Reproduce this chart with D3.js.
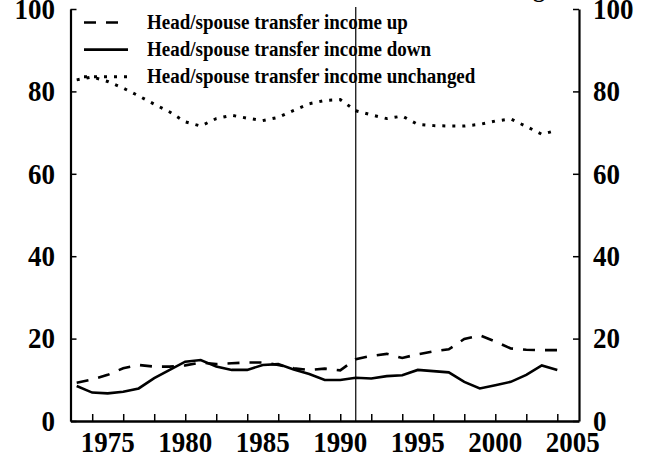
<!DOCTYPE html>
<html>
<head>
<meta charset="utf-8">
<script src="https://cdn.jsdelivr.net/npm/d3@7"></script>
<style>
  body { margin: 0; background: #fff; }
  svg { display: block; }
  text { font-family: "Liberation Serif", "Times New Roman", serif; font-weight: bold; fill: #000; }
</style>
</head>
<body>
<svg width="651" height="457"></svg>
<script>
var years = d3.range(1973, 2005);
var incomeUp = [9.3, 10.1, 11.2, 12.8, 13.6, 13.2, 13.2, 13.5, 14.2, 13.8, 14.0, 14.2, 14.2, 13.6,
                12.8, 12.4, 12.7, 12.3, 15.0, 15.8, 16.3, 15.3, 16.2, 16.9, 17.4, 19.9, 20.8, 19.3,
                17.6, 17.3, 17.2, 17.2];
var incomeDown = [8.5, 6.9, 6.7, 7.1, 7.9, 10.4, 12.4, 14.4, 14.8, 13.2, 12.4, 12.4, 13.6, 13.8,
                  12.5, 11.4, 9.95, 9.95, 10.5, 10.3, 10.9, 11.1, 12.4, 12.1, 11.8, 9.5, 7.9, 8.7,
                  9.5, 11.2, 13.5, 12.4];
var incomeSame = [82.8, 83.5, 82.4, 80.8, 78.9, 76.9, 75.0, 72.6, 71.6, 73.4, 74.2, 73.5, 72.9, 73.7,
                  75.4, 77.0, 77.8, 78.0, 75.3, 74.3, 73.4, 74.0, 72.0, 71.7, 71.6, 71.6, 72.0, 72.8,
                  73.3, 71.5, 69.6, 70.6];
var xLabels = [1975, 1980, 1985, 1990, 1995, 2000, 2005];
var xTicks = d3.range(1974, 2005, 2);
var yTicks = [0, 20, 40, 60, 80, 100];
var breakYear = 1991;
var seriesNames = ["Head/spouse transfer income up", "Head/spouse transfer income down",
                   "Head/spouse transfer income unchanged"];

function main() {
    var svg = d3.select("svg");

    var x = d3.scaleLinear().domain([1972.6, 2005.4]).range([70.5, 579]),
        y = d3.scaleLinear().domain([0, 100]).range([421, 9]);

    var styles = [
        { dash: "12,10", width: 2.6 },
        { dash: null, width: 2.6 },
        { dash: "3,7", width: 3 }
    ];
    var series = [incomeUp, incomeDown, incomeSame];

    // title sits above the frame, only the tail of its last letter shows
    svg.append("text")
        .attr("x", 545).attr("y", -3)
        .attr("text-anchor", "end")
        .attr("font-size", "24px")
        .text("Transfer Income Status Among");

    // axes (ticks pointing inward, no labels)
    var left = svg.append("g")
        .attr("transform", "translate(" + x.range()[0] + ",0)")
        .call(d3.axisRight(y).tickValues(yTicks).tickSize(6).tickSizeOuter(0).tickFormat(""));
    var right = svg.append("g")
        .attr("transform", "translate(" + x.range()[1] + ",0)")
        .call(d3.axisLeft(y).tickValues(yTicks).tickSize(6).tickSizeOuter(0).tickFormat(""));
    var bottom = svg.append("g")
        .attr("transform", "translate(0," + y(0) + ")")
        .call(d3.axisTop(x).tickValues(xTicks).tickSize(7).tickSizeOuter(0).tickFormat(""));

    [left, right].forEach(function(g) {
        g.select(".domain").attr("stroke-width", 2.2);
        g.selectAll(".tick line").attr("stroke-width", 1.5);
    });
    bottom.select(".domain").attr("stroke-width", 2.6);
    bottom.selectAll(".tick line").attr("stroke-width", 1.5);

    // tick labels, slightly condensed
    svg.selectAll(".ylab-l")
        .data(yTicks).enter().append("text")
        .attr("transform", function(d) { return "translate(55," + y(d) + ") scale(0.93,1)"; })
        .attr("text-anchor", "end")
        .attr("dy", "0.34em")
        .attr("font-size", "29px")
        .text(function(d) { return d; });
    svg.selectAll(".ylab-r")
        .data(yTicks).enter().append("text")
        .attr("transform", function(d) { return "translate(593," + y(d) + ") scale(0.93,1)"; })
        .attr("dy", "0.34em")
        .attr("font-size", "29px")
        .text(function(d) { return d; });
    svg.selectAll(".xlab")
        .data(xLabels).enter().append("text")
        .attr("transform", function(d) { return "translate(" + x(d) + ",452) scale(0.93,1)"; })
        .attr("text-anchor", "middle")
        .attr("font-size", "29px")
        .text(function(d) { return d; });

    // vertical marker line
    svg.append("line")
        .attr("x1", x(breakYear)).attr("x2", x(breakYear))
        .attr("y1", y(100) - 2).attr("y2", y(0))
        .attr("stroke", "#000").attr("stroke-width", 1.2);

    // series lines
    var line = d3.line()
        .x(function(d, i) { return x(years[i]); })
        .y(function(d) { return y(d); });

    series.forEach(function(s, i) {
        svg.append("path")
            .datum(s)
            .attr("fill", "none")
            .attr("stroke", "#000")
            .attr("stroke-width", styles[i].width)
            .attr("stroke-dasharray", styles[i].dash)
            .attr("d", line);
    });

    // legend
    var legend = svg.append("g");
    seriesNames.forEach(function(name, i) {
        var by = 28.5 + i * 27.1;
        legend.append("line")
            .attr("x1", 84).attr("x2", 128)
            .attr("y1", by - 6).attr("y2", by - 6)
            .attr("stroke", "#000")
            .attr("stroke-width", styles[i].width)
            .attr("stroke-dasharray", styles[i].dash);
        legend.append("text")
            .attr("transform", "translate(147," + by + ") scale(0.905,1)")
            .attr("font-size", "21px")
            .text(name);
    });
}
main();
</script>
</body>
</html>
